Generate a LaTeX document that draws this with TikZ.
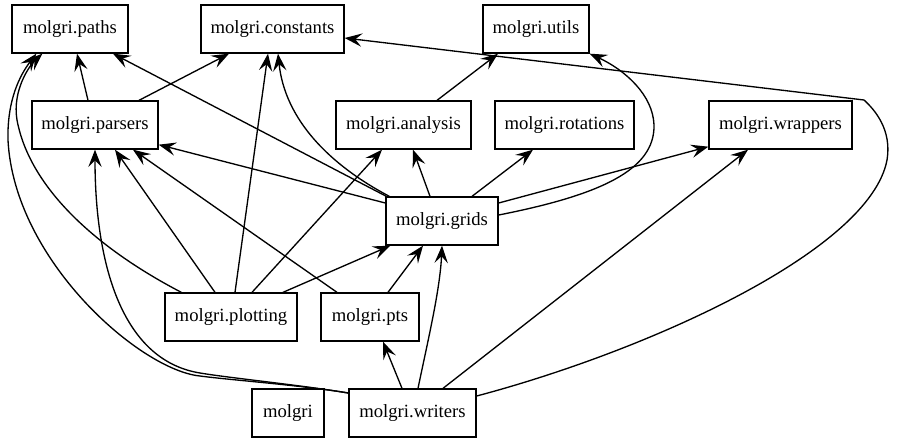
\documentclass[tikz,border=0pt]{standalone}
\usepackage{fontspec}
\setmainfont{Liberation Serif}
\usetikzlibrary{arrows.meta,calc}
\begin{document}
\begin{tikzpicture}[x=0.75pt,y=-0.75pt, line width=1pt,
  box/.style={draw, rectangle, inner sep=0pt, minimum height=36pt, font=\rmfamily\fontsize{14pt}{16pt}\selectfont},
  arr/.style={-{Stealth[length=13pt,width=10pt,inset=5pt]}}]
\useasboundingbox (0,0) rectangle (898,443);
% nodes
\node[box, minimum width=87pt]    (paths)     at (70,29)    {molgri.paths};
\node[box, minimum width=107.25pt](constants) at (272.5,29) {molgri.constants};
\node[box, minimum width=79.5pt]  (utils)     at (536,29)   {molgri.utils};
\node[box, minimum width=94.5pt]  (parsers)   at (95,125)   {molgri.parsers};
\node[box, minimum width=101.25pt](analysis)  at (403.5,125){molgri.analysis};
\node[box, minimum width=104.25pt](rotations) at (564.5,125){molgri.rotations};
\node[box, minimum width=107.25pt](wrappers)  at (780.5,125){molgri.wrappers};
\node[box, minimum width=84pt]    (grids)     at (442,221)  {molgri.grids};
\node[box, minimum width=99pt]    (plotting)  at (231,317)  {molgri.plotting};
\node[box, minimum width=73.5pt]  (pts)       at (370,317)  {molgri.pts};
\node[box, minimum width=54pt]    (molgri)    at (288,413)  {molgri};
\node[box, minimum width=95.25pt] (writers)   at (412.5,413){molgri.writers};
% edges
\draw[arr] ($(parsers.north)+(-7,0)$) -- ($(paths.south)+(7,0)$);
\draw[arr] ($(parsers.north)+(44,0)$) -- ($(constants.south)+(-43.5,0)$);
\draw[arr] ($(grids.north west)+(1,0)$) -- ($(paths.south)+(43,0)$);
\draw[arr] ($(grids.north west)+(4,0)$) .. controls (330,165) and (285,120) .. ($(constants.south)+(5.5,0)$);
\draw[arr] ($(grids.west)+(0,-18)$) -- ($(parsers.south east)+(0,-5)$);
\draw[arr] ($(grids.north)+(-12,0)$) -- ($(analysis.south)+(9.5,0)$);
\draw[arr] ($(grids.north)+(30,0)$) -- ($(rotations.south)+(-31.5,0)$);
\draw[arr] ($(grids.east)+(0,-18)$) -- ($(wrappers.south west)+(0,-3)$);
\draw[arr] ($(grids.east)+(0,-6)$) .. controls (600,195) and (655,170) .. (654,125)
  .. controls (653,95) and (625,70) .. (utils.south east);
\draw[arr] ($(analysis.north)+(33.5,0)$) -- ($(utils.south)+(-38,0)$);
\draw[arr] ($(plotting.north west)+(17,0)$) .. controls (100,250) and (30,190) .. (17,120)
  .. controls (12,90) and (30,65) .. ($(paths.south west)+(31,0)$);
\draw[arr] ($(plotting.north)+(-16,0)$) -- ($(parsers.south)+(20,0)$);
\draw[arr] ($(plotting.north)+(4,0)$) -- ($(constants.south)+(-4.5,0)$);
\draw[arr] ($(plotting.north)+(21,0)$) -- ($(analysis.south)+(-21.5,0)$);
\draw[arr] ($(plotting.north)+(52,0)$) -- ($(grids.south west)+(5,0)$);
\draw[arr] ($(pts.north)+(-33,0)$) -- ($(parsers.south)+(38,0)$);
\draw[arr] ($(pts.north)+(18,0)$) -- ($(grids.south)+(-19,0)$);
\draw[arr] ($(writers.north)+(-10.5,0)$) -- ($(pts.south)+(13,0)$);
\draw[arr] ($(writers.north)+(5.5,0)$) .. controls (428,340) and (440,290) .. (grids.south);
\draw[arr] ($(writers.north)+(30.5,0)$) -- ($(wrappers.south)+(-32.5,0)$);
\draw[arr] ($(writers.east)+(0,-17)$) .. controls (650,350) and (870,250) .. (887,160)
  .. controls (892,130) and (875,110) .. (864,100) -- ($(constants.east)+(0,9)$);
\draw[arr] ($(writers.west)+(0,-20)$) .. controls (300,385) and (230,380) .. (200,376)
  .. controls (140,370) and (14,260) .. (8,140)
  .. controls (7,100) and (20,75) .. ($(paths.south west)+(25,0)$);
\draw[arr] ($(writers.west)+(0,-20)$) .. controls (300,385) and (230,378) .. (200,373)
  .. controls (120,360) and (95,260) .. (parsers.south);
\end{tikzpicture}
\end{document}
